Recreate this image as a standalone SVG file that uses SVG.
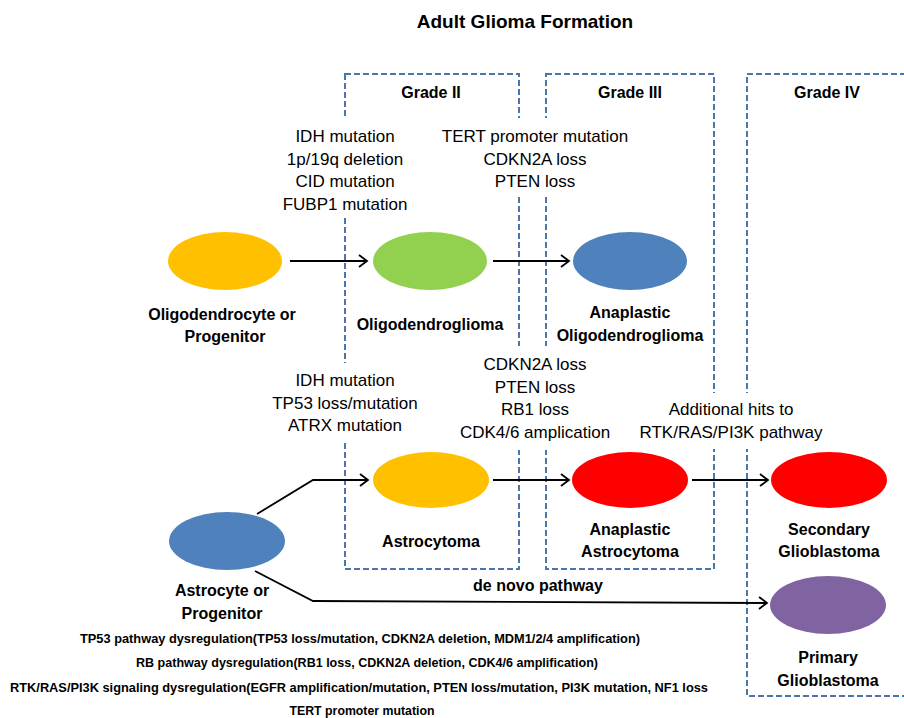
<svg xmlns="http://www.w3.org/2000/svg" width="904" height="718" viewBox="0 0 904 718">
<style>
text{font-family:"Liberation Sans",Arial,sans-serif;fill:#000;text-anchor:middle}
.t{font-size:19px;font-weight:bold}
.b{font-size:16px;font-weight:bold}
.r{font-size:17px}
.n{font-size:13px;font-weight:bold}
.box{fill:none;stroke:#4A76A8;stroke-width:2;stroke-dasharray:6 3}
.bg{fill:#fff}
.ar{fill:none;stroke:#000;stroke-width:1.8}
</style>
<defs>
<marker id="ah" markerWidth="12" markerHeight="14" refX="10" refY="7" orient="auto" markerUnits="userSpaceOnUse">
<path d="M2,1 L10,7 L2,13" fill="none" stroke="#000" stroke-width="1.8"/>
</marker>
</defs>
<rect width="904" height="718" fill="#fff"/>
<text class="t" x="525" y="28">Adult Glioma Formation</text>

<g id="grades">
<rect class="box" x="345" y="74" width="174" height="495"/>
<rect class="box" x="546" y="74" width="168" height="495"/>
<rect class="box" x="747" y="74" width="170" height="622"/>
<text class="b" x="431" y="98">Grade II</text>
<text class="b" x="630" y="98">Grade III</text>
<text class="b" x="827" y="98">Grade IV</text>
</g>

<g id="mutation-labels">
<rect class="bg" x="280" y="118" width="130" height="97"/>
<rect class="bg" x="436" y="118" width="198" height="79"/>
<rect class="bg" x="283" y="363" width="125" height="80"/>
<rect class="bg" x="455" y="346" width="160" height="104"/>
<rect class="bg" x="636" y="393" width="190" height="56"/>
<text class="r" x="345" y="142">IDH mutation</text>
<text class="r" x="345" y="164.5">1p/19q deletion</text>
<text class="r" x="345" y="187">CID mutation</text>
<text class="r" x="345" y="209.5">FUBP1 mutation</text>
<text class="r" x="535" y="142">TERT promoter mutation</text>
<text class="r" x="535" y="164.5">CDKN2A loss</text>
<text class="r" x="535" y="187">PTEN loss</text>
<text class="r" x="345" y="386">IDH mutation</text>
<text class="r" x="345" y="408.5">TP53 loss/mutation</text>
<text class="r" x="345" y="431">ATRX mutation</text>
<text class="r" x="535" y="370">CDKN2A loss</text>
<text class="r" x="535" y="392.5">PTEN loss</text>
<text class="r" x="535" y="415">RB1 loss</text>
<text class="r" x="535" y="437.5">CDK4/6 amplication</text>
<text class="r" x="731" y="415">Additional hits to</text>
<text class="r" x="731" y="437.5">RTK/RAS/PI3K pathway</text>
<text class="b" x="538" y="591">de novo pathway</text>
</g>

<g id="connectors">
<line class="ar" x1="290" y1="261" x2="367" y2="261" marker-end="url(#ah)"/>
<line class="ar" x1="493" y1="261" x2="569" y2="261" marker-end="url(#ah)"/>
<polyline class="ar" points="257,514 313,480 368,480" marker-end="url(#ah)"/>
<line class="ar" x1="493" y1="480" x2="569" y2="480" marker-end="url(#ah)"/>
<line class="ar" x1="692" y1="480" x2="768" y2="480" marker-end="url(#ah)"/>
<polyline class="ar" points="255,571 313,601 767,603" marker-end="url(#ah)"/>
</g>

<g id="oligodendrocyte">
<ellipse cx="225" cy="261" rx="57" ry="29" fill="#FFC000"/>
<text class="b" x="222" y="320">Oligodendrocyte or</text>
<text class="b" x="225" y="342">Progenitor</text>
</g>
<g id="oligodendroglioma">
<ellipse cx="430" cy="261" rx="57" ry="29" fill="#92D050"/>
<text class="b" x="430" y="330">Oligodendroglioma</text>
</g>
<g id="anaplastic-oligodendroglioma">
<ellipse cx="630" cy="261" rx="57" ry="29" fill="#4F81BD"/>
<text class="b" x="630" y="318">Anaplastic</text>
<text class="b" x="630" y="341">Oligodendroglioma</text>
</g>
<g id="astrocyte">
<ellipse cx="227" cy="541" rx="58" ry="29" fill="#4F81BD"/>
<text class="b" x="222" y="596">Astrocyte or</text>
<text class="b" x="222" y="619">Progenitor</text>
</g>
<g id="astrocytoma">
<ellipse cx="431" cy="480" rx="58" ry="28" fill="#FFC000"/>
<text class="b" x="431" y="547">Astrocytoma</text>
</g>
<g id="anaplastic-astrocytoma">
<ellipse cx="630" cy="480" rx="58" ry="28" fill="#FF0000"/>
<text class="b" x="630" y="535">Anaplastic</text>
<text class="b" x="630" y="557">Astrocytoma</text>
</g>
<g id="secondary-glioblastoma">
<ellipse cx="829" cy="480" rx="58" ry="28" fill="#FF0000"/>
<text class="b" x="829" y="535">Secondary</text>
<text class="b" x="829" y="557">Glioblastoma</text>
</g>
<g id="primary-glioblastoma">
<ellipse cx="828" cy="605" rx="58" ry="29" fill="#8064A2"/>
<text class="b" x="828" y="663">Primary</text>
<text class="b" x="828" y="686">Glioblastoma</text>
</g>

<g id="notes">
<text class="n" x="360" y="643" textLength="560" lengthAdjust="spacingAndGlyphs">TP53 pathway dysregulation(TP53 loss/mutation, CDKN2A deletion, MDM1/2/4 amplification)</text>
<text class="n" x="367" y="667" textLength="462" lengthAdjust="spacingAndGlyphs">RB pathway dysregulation(RB1 loss, CDKN2A deletion, CDK4/6 amplification)</text>
<text class="n" x="359" y="692" textLength="698" lengthAdjust="spacingAndGlyphs">RTK/RAS/PI3K signaling dysregulation(EGFR amplification/mutation, PTEN loss/mutation, PI3K mutation, NF1 loss</text>
<text class="n" x="362" y="715" textLength="145" lengthAdjust="spacingAndGlyphs">TERT promoter mutation</text>
</g>
</svg>
